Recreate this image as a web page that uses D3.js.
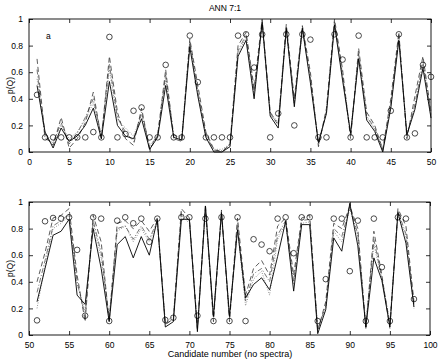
<!DOCTYPE html>
<html>
<head>
<meta charset="utf-8">
<script src="https://cdn.jsdelivr.net/npm/d3@7"></script>
<style>
  body { margin: 0; background: #fff; }
  svg { display: block; font-family: "Liberation Sans", Arial, sans-serif; }
  .tick text { font-size: 8.5px; fill: #000; }
  .domain { display: none; }
</style>
</head>
<body>
<svg id="chart" width="442" height="360"></svg>
<script>
// candidates 1..50 (top) and 51..98 (bottom)
var topX = d3.range(1, 51);
var botX = d3.range(51, 99);

// observed p(Q) (circles)
var topObs = [0.43,0.11,0.11,0.11,0.11,0.11,0.11,0.15,0.11,0.865,0.11,0.135,0.31,0.335,0.11,0.11,0.655,0.11,0.11,0.875,
  0.525,0.11,0.11,0.11,0.11,0.875,0.885,0.635,0.885,0.11,0.29,0.885,0.20,0.885,0.845,0.11,0.11,0.885,0.695,0.11,
  0.875,0.11,0.11,0.11,0.31,0.885,0.11,0.14,0.655,0.565];
var botObs = [0.11,0.855,0.88,0.875,0.885,0.64,0.145,0.885,0.875,0.105,0.86,0.885,0.84,0.875,0.70,0.875,0.113,0.13,0.885,0.885,
  0.145,0.875,0.105,0.885,0.105,0.885,0.105,0.72,0.68,0.63,0.875,0.885,0.615,0.885,0.885,0.105,0.42,0.875,0.875,0.48,
  0.86,0.105,0.875,0.51,0.105,0.885,0.875,0.27];

// network outputs, top panel
var topSolid = [0.50,0.15,0.03,0.18,0.08,0.12,0.20,0.33,0.10,0.53,0.20,0.12,0.10,0.25,0.02,0.11,0.50,0.11,0.09,0.79,
  0.42,0.11,0.00,0.00,0.04,0.72,0.84,0.40,0.98,0.27,0.18,0.93,0.34,0.93,0.52,0.07,0.29,0.955,0.54,0.14,
  0.70,0.24,0.155,0.00,0.33,0.84,0.13,0.32,0.63,0.255];
var topDash = [0.70,0.12,0.05,0.26,0.03,0.10,0.22,0.45,0.10,0.72,0.30,0.10,0.05,0.33,0.02,0.12,0.62,0.10,0.08,0.85,
  0.50,0.15,0.02,0.00,0.06,0.80,0.90,0.48,1.00,0.30,0.20,0.96,0.40,0.95,0.60,0.04,0.33,1.00,0.62,0.10,
  0.78,0.30,0.20,0.02,0.40,0.90,0.10,0.42,0.72,0.30];
var topDashDot = [0.62,0.10,0.07,0.22,0.06,0.14,0.26,0.40,0.12,0.66,0.26,0.15,0.08,0.30,0.03,0.13,0.58,0.13,0.10,0.83,
  0.46,0.13,0.01,0.01,0.05,0.76,0.88,0.45,0.97,0.28,0.22,0.94,0.37,0.94,0.56,0.05,0.31,0.98,0.58,0.12,
  0.74,0.27,0.18,0.01,0.36,0.88,0.12,0.36,0.68,0.28];
var topDot = [0.55,0.13,0.05,0.20,0.10,0.15,0.24,0.37,0.12,0.62,0.24,0.18,0.12,0.28,0.05,0.12,0.55,0.12,0.12,0.82,
  0.44,0.12,0.02,0.02,0.06,0.74,0.86,0.42,0.96,0.30,0.22,0.92,0.36,0.92,0.55,0.08,0.30,0.96,0.57,0.15,
  0.72,0.26,0.17,0.02,0.35,0.86,0.14,0.34,0.66,0.27];

// network outputs, bottom panel
var botSolid = [0.25,0.50,0.75,0.78,0.87,0.30,0.23,0.80,0.50,0.10,0.68,0.74,0.58,0.74,0.60,0.87,0.06,0.10,0.87,0.87,
  0.025,0.97,0.14,0.92,0.14,0.79,0.28,0.38,0.43,0.34,0.59,0.855,0.33,0.83,0.83,0.01,0.19,0.73,0.63,0.99,
  0.67,0.06,0.58,0.41,0.06,0.92,0.69,0.21];
var botDash = [0.40,0.62,0.88,0.90,0.95,0.45,0.10,0.90,0.70,0.10,0.84,0.86,0.80,0.86,0.78,0.88,0.08,0.12,0.95,0.88,
  0.05,0.98,0.10,0.94,0.10,0.88,0.30,0.50,0.56,0.45,0.82,0.88,0.45,0.88,0.90,0.03,0.25,0.84,0.80,0.97,
  0.80,0.05,0.78,0.45,0.05,0.95,0.82,0.25];
var botDashDot = [0.32,0.56,0.82,0.86,0.91,0.40,0.14,0.86,0.62,0.12,0.80,0.82,0.72,0.82,0.72,0.86,0.08,0.12,0.92,0.86,
  0.04,0.95,0.12,0.92,0.12,0.84,0.25,0.46,0.50,0.40,0.75,0.86,0.40,0.86,0.87,0.04,0.22,0.80,0.74,0.96,
  0.76,0.06,0.72,0.43,0.08,0.93,0.76,0.23];
var botDot = [0.20,0.52,0.80,0.84,0.90,0.38,0.18,0.84,0.58,0.14,0.78,0.82,0.70,0.80,0.70,0.84,0.10,0.14,0.90,0.84,
  0.06,0.93,0.15,0.90,0.15,0.80,0.22,0.42,0.48,0.30,0.72,0.84,0.38,0.84,0.85,0.05,0.20,0.78,0.70,0.95,
  0.74,0.08,0.68,0.42,0.10,0.90,0.74,0.20];

var yTicks = [0, 0.2, 0.4, 0.6, 0.8, 1];

var svg = d3.select('#chart');

var styles = [
    {key: 'dot', stroke: '#888', dash: '1,1.5', width: 0.9},
    {key: 'dashdot', stroke: '#555', dash: '5,2,1,2', width: 0.8},
    {key: 'dash', stroke: '#333', dash: '5,3', width: 0.8},
    {key: 'solid', stroke: '#000', dash: null, width: 0.9}
];

function panel(opts) {
    var x = d3.scaleLinear().domain(opts.xDomain).range([opts.left, opts.right]);
    var y = d3.scaleLinear().domain([0, 1]).range([opts.bottom, opts.top]);
    var g = svg.append('g');

    var xTicks = d3.range(opts.xDomain[0], opts.xDomain[1] + 1, 5);

    g.append('g')
        .attr('transform', 'translate(0,' + opts.bottom + ')')
        .call(d3.axisBottom(x).tickValues(xTicks).tickSize(-4).tickPadding(7).tickFormat(d3.format('d')));
    g.append('g')
        .attr('transform', 'translate(0,' + opts.top + ')')
        .call(d3.axisTop(x).tickValues(xTicks).tickSize(-4).tickFormat(''));
    g.append('g')
        .attr('transform', 'translate(' + opts.left + ',0)')
        .call(d3.axisLeft(y).tickValues(yTicks).tickSize(-4).tickPadding(6).tickFormat(d3.format('')));
    g.append('g')
        .attr('transform', 'translate(' + opts.right + ',0)')
        .call(d3.axisRight(y).tickValues(yTicks).tickSize(-4).tickFormat(''));

    g.selectAll('.tick line').attr('stroke', '#000').attr('stroke-width', 0.8);

    g.append('rect')
        .attr('x', opts.left).attr('y', opts.top)
        .attr('width', opts.right - opts.left).attr('height', opts.bottom - opts.top)
        .attr('fill', 'none').attr('stroke', '#000').attr('stroke-width', 0.9);

    var marks = g.append('g');

    styles.forEach(function (s) {
        var vals = opts.series[s.key];
        var line = d3.line()
            .x(function (d, i) { return x(opts.xs[i]); })
            .y(function (d) { return y(d); });
        marks.append('path')
            .datum(vals)
            .attr('d', line)
            .attr('fill', 'none')
            .attr('stroke', s.stroke)
            .attr('stroke-width', s.width)
            .attr('stroke-dasharray', s.dash);
    });

    marks.selectAll('circle.obs')
        .data(opts.obs)
        .enter().append('circle')
        .attr('class', 'obs')
        .attr('cx', function (d, i) { return x(opts.xs[i]); })
        .attr('cy', function (d) { return y(d); })
        .attr('r', 2.8)
        .attr('fill', 'none')
        .attr('stroke', '#000')
        .attr('stroke-width', 0.7);

    g.append('text')
        .attr('transform', 'translate(13,' + ((opts.top + opts.bottom) / 2) + ') rotate(-90)')
        .attr('text-anchor', 'middle')
        .attr('font-size', 8.5)
        .text('p(Q)');

    return {x: x, y: y, g: g};
}

var topPanel = panel({
    xDomain: [0, 50], left: 29, right: 431, top: 19, bottom: 152,
    xs: topX, obs: topObs,
    series: {solid: topSolid, dash: topDash, dashdot: topDashDot, dot: topDot}
});

var botPanel = panel({
    xDomain: [50, 100], left: 29, right: 430, top: 202, bottom: 335,
    xs: botX, obs: botObs,
    series: {solid: botSolid, dash: botDash, dashdot: botDashDot, dot: botDot}
});

svg.append('text')
    .attr('x', 225).attr('y', 11)
    .attr('text-anchor', 'middle')
    .attr('font-size', 8.5)
    .text('ANN 7:1');

topPanel.g.append('text')
    .attr('x', 46).attr('y', 39)
    .attr('font-size', 8.5)
    .text('a');

svg.append('text')
    .attr('x', 230).attr('y', 357)
    .attr('text-anchor', 'middle')
    .attr('font-size', 9)
    .text('Candidate number (no spectra)');
</script>
</body>
</html>
